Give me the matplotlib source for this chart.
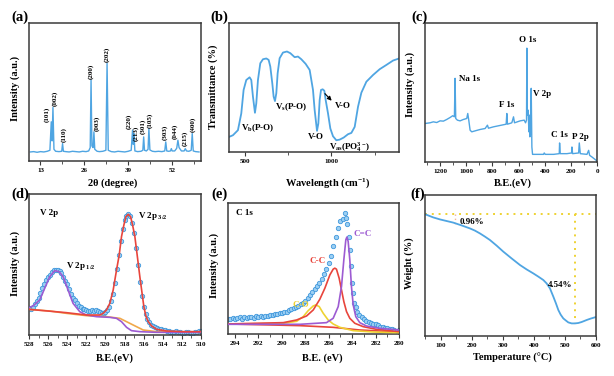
import matplotlib
matplotlib.use("Agg")
import matplotlib.pyplot as plt
from matplotlib.ticker import MultipleLocator

plt.rcParams["font.family"] = ["Liberation Serif", "DejaVu Serif"]
plt.rcParams["font.weight"] = "bold"
plt.rcParams["mathtext.fontset"] = "custom"
plt.rcParams["mathtext.rm"] = "Liberation Serif:bold"
plt.rcParams["mathtext.it"] = "Liberation Serif:italic:bold"
plt.rcParams["mathtext.bf"] = "Liberation Serif:bold"

# ---------------------------------------------------------------- data
# (a) XRD
xrd_tt = [10.0, 11.0, 12.0, 13.0, 14.0, 15.0, 15.8, 16.2, 16.45, 16.7, 17.0, 17.5,
          18.5, 19.3, 19.55, 19.8, 20.5, 21.5, 22.5, 23.5, 24.5, 25.5, 26.5, 27.3,
          27.75, 28.0, 28.25, 28.6, 28.85, 29.1, 29.8, 30.5, 31.5, 32.4, 32.75, 33.1,
          34.0, 35.0, 36.0, 37.0, 38.0, 39.0, 39.9, 40.3, 40.5, 40.7, 41.0, 41.8,
          42.8, 43.35, 43.6, 43.85, 44.4, 44.9, 45.15, 45.45, 46.2, 47.0, 48.0, 49.0,
          49.85, 50.15, 50.45, 51.0, 51.55, 51.8, 52.05, 52.8, 53.4, 53.75, 54.1, 54.8,
          55.6, 55.95, 56.3, 57.0, 57.7, 58.0, 58.3, 59.0, 60.0]
xrd_int = [27, 28, 26, 28, 27, 29, 32, 117, 60, 160, 35, 29,
           28, 29, 52, 29, 28, 27, 29, 28, 27, 29, 28, 30,
           40, 242, 45, 40, 87, 35, 29, 28, 29, 32, 292, 32,
           28, 27, 29, 28, 27, 29, 32, 92, 50, 82, 30, 28,
           29, 32, 72, 32, 30, 35, 97, 33, 29, 28, 29, 28,
           30, 57, 30, 29, 30, 37, 30, 30, 38, 62, 40, 30,
           30, 37, 30, 29, 32, 82, 30, 28, 27]
hkl_labels = ["(101)", "(002)", "(110)", "(200)", "(003)", "(202)", "(220)",
              "(213)", "(301)", "(105)", "(303)", "(044)", "(215)", "(400)"]
hkl_x = [15.0, 17.2, 19.8, 28.0, 29.6, 32.75, 39.2, 41.35, 43.3, 45.5, 49.9, 52.9, 55.8, 58.2]
hkl_y = [114, 160, 54, 242, 86, 292, 94, 57, 77, 97, 60, 64, 42, 84]

# (b) FTIR
ir_wn = [410, 432.7, 461.5, 480.8, 494.2, 509.6, 528.8, 538.5, 548.1, 559.6, 567.3,
         576.9, 590.4, 605.8, 625.0, 638.5, 648.1, 659.6, 667.3, 675.0, 682.7, 690.4,
         701.9, 721.2, 744.2, 763.5, 788.5, 807.7, 826.9, 851.9, 875.0, 894.2, 903.8,
         917.3, 925.0, 932.7, 940.4, 950.0, 959.6, 967.3, 980.8, 994.2, 1009.6, 1028.8,
         1048.1, 1071.2, 1096.2, 1115.4, 1134.6, 1153.8, 1173.1, 1201.9, 1240.4,
         1278.8, 1317.3, 1355.8, 1390.4]
ir_t = [11.7, 13.0, 16.9, 29.9, 48.1, 55.8, 57.9, 55.8, 42.9, 30.4, 37.7,
        55.8, 68.8, 71.9, 72.5, 71.4, 66.2, 53.2, 42.9, 39.5, 45.5, 61.0,
        72.7, 77.1, 77.9, 76.6, 73.5, 74.0, 71.9, 68.3, 63.6, 48.1, 32.5,
        16.4, 22.1, 40.3, 48.1, 48.6, 47.5, 40.3, 29.9, 18.2, 12.2, 9.1,
        9.6, 11.2, 13.8, 14.8, 19.5, 35.1, 46.0, 54.5, 59.7,
        64.2, 67.5, 70.9, 72.5]

# (c) XPS survey
sv_be = [1314.9, 1276.6, 1251.1, 1225.5, 1200.0, 1174.5, 1148.9, 1123.4, 1103.0, 1090.2,
         1085.1, 1080.0, 1067.2, 1046.8, 1021.3, 995.8, 988.1, 980.4, 970.2, 957.5,
         932.0, 893.6, 855.3, 837.5, 829.8, 791.5, 740.5, 694.5, 689.4, 684.3,
         651.1, 638.3, 630.7, 587.3, 556.6, 546.4, 538.8, 536.2, 533.7, 528.5,
         526.0, 520.9, 515.8, 513.2, 508.1, 503.0, 497.9, 492.8, 459.6, 408.6,
         403.5, 395.8, 331.8, 288.6, 286.0, 280.9, 229.9, 194.1, 191.6, 186.5,
         140.5, 135.4, 127.7, 76.7, 63.9, 56.3, 38.4, 12.8, 0.0]
sv_int = [27.7, 28.2, 28.9, 28.4, 29.6, 29.4, 30.6, 32.0, 33.3, 32.5,
          60.2, 31.3, 30.1, 29.6, 30.6, 31.3, 34.9, 30.1, 22.9, 21.7,
          22.4, 23.4, 24.1, 26.5, 24.3, 25.3, 26.3, 27.2, 34.9, 27.2,
          28.2, 32.5, 28.2, 29.6, 30.1, 28.2, 30.1, 81.9, 34.9, 33.7,
          37.3, 21.7, 33.7, 18.1, 20.5, 53.0, 10.8, 5.5, 5.5, 5.5,
          6.5, 5.5, 5.5, 6.0, 13.7, 6.0, 6.0, 6.5, 10.8, 6.0,
          6.5, 13.7, 6.0, 5.5, 8.4, 4.8, 3.6, 1.7, 0.7]

# (d) V 2p
v_be = [528.0, 527.8, 527.6, 527.4, 527.2, 527.0, 526.8, 526.6, 526.4, 526.2, 526.0,
        525.8, 525.6, 525.4, 525.2, 525.0, 524.8, 524.6, 524.4, 524.2, 524.0, 523.8,
        523.6, 523.4, 523.2, 523.0, 522.8, 522.6, 522.4, 522.2, 522.0, 521.8, 521.6,
        521.4, 521.2, 521.0, 520.8, 520.6, 520.4, 520.2, 520.0, 519.8, 519.6, 519.4,
        519.2, 519.0, 518.8, 518.6, 518.4, 518.2, 518.0, 517.8, 517.6, 517.4, 517.2,
        517.0, 516.8, 516.6, 516.4, 516.2, 516.0, 515.8, 515.6, 515.4, 515.2, 515.0,
        514.8, 514.6, 514.4, 514.2, 514.0, 513.8, 513.6, 513.4, 513.2, 513.0, 512.8,
        512.6, 512.4, 512.2, 512.0, 511.8, 511.6, 511.4, 511.2, 511.0, 510.8, 510.6,
        510.4, 510.2, 510.0]
v_int = [80, 77, 84, 92, 101, 112, 126, 141, 153, 166, 174,
         181, 188, 194, 196, 194, 191, 185, 174, 162, 152, 138,
         124, 112, 104, 95, 88, 83, 79, 77, 75, 71, 72,
         76, 73, 74, 71, 70, 67, 66, 69, 76, 85, 103,
         124, 157, 198, 240, 282, 318, 345, 358, 363, 357, 337,
         305, 262, 210, 160, 117, 84, 62, 47, 38, 31, 27,
         23, 20, 18, 17, 15, 14, 13, 11, 10, 8, 10,
         13, 9, 8, 6, 5, 9, 10, 7, 6, 5, 8,
         10, 12, 11]
v32_be = [528.0, 524.09, 521.99, 520.59, 520.24, 519.89, 519.54, 519.19, 518.84, 518.56,
          518.32, 518.07, 517.86, 517.62, 517.37, 517.16, 516.92, 516.68, 516.40, 516.19,
          515.98, 515.77, 515.52, 515.17, 514.65, 513.60, 511.85, 510.0]
v32_int = [77, 67, 60, 60, 65, 75, 95, 135, 195, 240,
           295, 330, 355, 362, 355, 330, 295, 240, 175, 130,
           85, 57, 40, 27, 17, 12, 10, 10]
vbg_be = [528.0, 525.83, 524.09, 521.99, 519.89, 518.49, 517.10, 516.05, 514.65, 510.0]
vbg_int = [77, 72, 65, 58, 55, 50, 30, 15, 10, 8]
v12_be = [528.0, 527.58, 526.88, 526.36, 525.83, 525.31, 524.85, 524.43, 523.91, 523.39,
          522.69, 521.99, 520.94, 519.54, 518.84, 518.32, 517.79, 517.27, 516.40, 514.65, 510.0]
v12_int = [82, 87, 105, 140, 175, 193, 190, 175, 135, 95,
           70, 60, 55, 53, 50, 40, 23, 13, 10, 8, 8]

# (e) C 1s
c_be = [294.6, 294.4, 294.2, 294.0, 293.8, 293.6, 293.4, 293.2, 293.0, 292.8, 292.6,
        292.4, 292.2, 292.0, 291.8, 291.6, 291.4, 291.2, 291.0, 290.8, 290.6, 290.4,
        290.2, 290.0, 289.8, 289.6, 289.4, 289.2, 289.0, 288.8, 288.6, 288.4, 288.2,
        288.0, 287.8, 287.6, 287.4, 287.2, 287.0, 286.8, 286.6, 286.4, 286.2, 286.0,
        285.8, 285.6, 285.4, 285.2, 285.0, 284.8, 284.6, 284.5, 284.4, 284.3, 284.2,
        284.1, 284.0, 283.9, 283.8, 283.7, 283.6, 283.4, 283.2, 283.0, 282.8, 282.6,
        282.4, 282.2, 282.0, 281.8, 281.6, 281.4, 281.2, 281.0, 280.8, 280.6, 280.4,
        280.2, 280.0]
c_int = [44, 46, 48, 44, 49, 50, 46, 50, 47, 51, 52,
         49, 53, 51, 54, 52, 55, 54, 57, 56, 59, 60,
         62, 63, 66, 67, 71, 74, 77, 81, 84, 89, 94,
         100, 107, 116, 126, 134, 144, 154, 166, 179, 194, 212,
         234, 262, 290, 317, 337, 344, 362, 347, 330, 290, 252,
         202, 152, 122, 94, 80, 67, 57, 50, 44, 40, 37,
         34, 30, 29, 26, 22, 21, 17, 18, 14, 15, 12,
         10, 11]
cco_be = [294.57, 289.88, 288.74, 288.18, 287.75, 287.32, 287.10, 286.81, 286.47, 286.05,
          285.62, 285.05, 283.91, 282.21, 280.0]
cco_int = [30, 32, 38, 52, 70, 84, 87, 82, 62, 42, 30, 20, 10, 6, 4]
ccc_be = [294.57, 289.88, 288.74, 287.89, 287.32, 286.76, 286.33, 285.90, 285.62, 285.48,
          285.34, 285.11, 284.91, 284.71, 284.48, 284.20, 283.77, 283.06, 281.93, 280.0]
ccc_int = [30, 34, 42, 54, 72, 104, 137, 177, 194, 197,
           194, 167, 132, 97, 67, 47, 32, 22, 14, 7]
cdc_be = [294.57, 288.46, 286.19, 285.62, 285.19, 284.91, 284.71, 284.54, 284.45, 284.34,
          284.20, 284.06, 283.91, 283.69, 283.35, 282.78, 281.64, 280.0]
cdc_int = [29, 29, 34, 47, 82, 142, 222, 282, 290, 277,
           222, 142, 87, 52, 34, 24, 17, 12]
cbg_be = [294.57, 288.46, 285.62, 283.35, 280.0]
cbg_int = [30, 25, 20, 12, 6]

# (f) TGA
tga_t = [50, 76.4, 97.9, 119.3, 140.8, 167.6, 194.4, 210.5, 226.6, 242.7, 258.8,
         280.3, 301.7, 328.5, 355.4, 376.8, 398.3, 414.4, 430.5, 441.2, 451.9, 462.7,
         471.2, 478.8, 486.3, 494.8, 503.4, 510.9, 521.7, 532.4, 543.1, 553.9, 570.0,
         582.8, 600]
tga_w = [99.99, 99.83, 99.73, 99.65, 99.57, 99.43, 99.28, 99.17, 99.03, 98.87, 98.70,
         98.42, 98.12, 97.78, 97.45, 97.23, 97.03, 96.87, 96.70, 96.53, 96.28, 95.87,
         95.53, 95.20, 94.97, 94.78, 94.67, 94.58, 94.53, 94.53, 94.55, 94.60, 94.70,
         94.77, 94.85]
tga_start = 100.0
tga_step1_t = 146
tga_end_t = 532.4
tga_min_w = 94.53

# ---------------------------------------------------------------- style
BLUE = "#4fa5e2"
DOT_FACE = "#9ccff3"
DOT_EDGE = "#3f97dc"
RED = "#e8453c"
ORANGE = "#f0a84a"
PURPLE = "#9d5bd2"
YELLOW = "#eed232"
FRAME = "#3a3a3a"

W, H = 614, 376
fig = plt.figure(figsize=(W / 100, H / 100), dpi=100)


def box(x0, y0, x1, y1):
    return [x0 / W, 1 - y1 / H, (x1 - x0) / W, (y1 - y0) / H]


def setup(ax, xlim, ylim, major, minor):
    ax.set_xlim(*xlim)
    ax.set_ylim(*ylim)
    ax.xaxis.set_major_locator(MultipleLocator(major))
    ax.xaxis.set_minor_locator(MultipleLocator(minor))
    ax.set_yticks([])
    ax.tick_params(axis="x", which="major", direction="out", length=3, width=0.8,
                   labelsize=5, pad=2, color=FRAME)
    ax.tick_params(axis="x", which="minor", direction="out", length=2, width=0.6, color=FRAME)
    for s in ax.spines.values():
        s.set_color(FRAME)
        s.set_linewidth(1.1)


def ftext(px, py, s, **kw):
    fig.text(px / W, 1 - py / H, s, ha="center", va="center", **kw)


# (a)
ax = fig.add_axes(box(29, 23, 201, 161))
setup(ax, (9.6, 60.6), (0, 412), 13, 6.5)
ax.plot(xrd_tt, xrd_int, color=BLUE, lw=1.0)
for lab, x, y in zip(hkl_labels, hkl_x, hkl_y):
    ax.text(x, y + 3, lab, rotation=90, ha="center", va="bottom", fontsize=5)

# (b)
ax = fig.add_axes(box(229, 23, 399, 152))
setup(ax, (410, 1390), (0, 100), 500, 250)
ax.plot(ir_wn, ir_t, color=BLUE, lw=1.3)
ax.text(481, 18.7, r"V$_{\mathrm{b}}$(P-O)", fontsize=6.5, va="center")
ax.text(673, 34.5, r"V$_{\mathrm{s}}$(P-O)", fontsize=6.5, va="center")
ax.text(913, 11.7, "V-O", fontsize=6.5, ha="center", va="center")
ax.text(1019, 35.6, "V-O", fontsize=6.5, va="center")
ax.text(986, 3.9, r"V$_{\mathrm{as}}$(PO$_{4}^{3-}$)", fontsize=6.5, va="center")
ax.annotate("", xy=(1013, 38.2), xytext=(952, 46.8),
            arrowprops=dict(arrowstyle="-|>", color="black", lw=0.8, mutation_scale=6))

# (c)
ax = fig.add_axes(box(425, 23, 597, 162))
setup(ax, (1315, 0), (0, 100), 200, 100)
ax.plot(sv_be, sv_int, color=BLUE, lw=1.0)
ax.text(1052, 59.5, "Na 1s", fontsize=6.5, va="center")
ax.text(531, 87.5, "O 1s", fontsize=6.5, ha="center", va="center")
ax.text(493, 48.7, "V 2p", fontsize=6.5, va="center")
ax.text(692, 41, "F 1s", fontsize=6.5, ha="center", va="center")
ax.text(352, 19.3, "C 1s", fontsize=6.5, va="center")
ax.text(192, 18, "P 2p", fontsize=6.5, va="center")

# (d)
ax = fig.add_axes(box(29, 194, 201, 335))
setup(ax, (528, 510), (0, 423), 2, 1)
ax.scatter(v_be, v_int, s=10, facecolor=DOT_FACE, edgecolor=DOT_EDGE, lw=0.6, zorder=2)
ax.plot(vbg_be, vbg_int, color=ORANGE, lw=1.2, zorder=3)
ax.plot(v12_be, v12_int, color=PURPLE, lw=1.2, zorder=3)
ax.plot(v32_be, v32_int, color=RED, lw=1.2, zorder=4)
ax.text(526.81, 365, "V 2p", fontsize=6.5, va="center")
ax.text(524.15, 207, r"V 2p$_{\ 1/2}$", fontsize=6.5, va="center")
ax.text(516.57, 357, r"V 2p$_{\ 3/2}$", fontsize=6.5, va="center")

# (e)
ax = fig.add_axes(box(228, 203, 399, 334))
setup(ax, (294.6, 280), (0, 392), 2, 1)
ax.scatter(c_be, c_int, s=10, facecolor=DOT_FACE, edgecolor=DOT_EDGE, lw=0.6, zorder=2)
ax.plot(cbg_be, cbg_int, color=RED, lw=1.2, zorder=3)
ax.plot(cco_be, cco_int, color=YELLOW, lw=1.2, zorder=3)
ax.plot(ccc_be, ccc_int, color=RED, lw=1.2, zorder=3)
ax.plot(cdc_be, cdc_int, color=PURPLE, lw=1.2, zorder=3)
ax.text(293.9, 362, "C 1s", fontsize=6.5, va="center")
ax.text(283.86, 299, "C=C", fontsize=6.5, va="center", color=PURPLE)
ax.text(287.66, 217, "C-C", fontsize=6.5, va="center", color=RED)
ax.text(289.09, 87, "C-O", fontsize=6.5, va="center", color=YELLOW)

# (f)
ax = fig.add_axes(box(425, 195, 596, 336))
setup(ax, (50, 600), (93.9, 100.95), 100, 50)
ax.axhline(tga_start, color=YELLOW, lw=1.4, ls=(0, (1, 2.5)))
ax.plot([tga_end_t, tga_end_t], [tga_start, tga_min_w], color=YELLOW, lw=1.4, ls=(0, (1, 2.5)))
ax.plot([tga_step1_t, tga_step1_t], [tga_start, 99.5], color="#f2b49b", lw=1.0, ls=(0, (1, 2)))
ax.plot(tga_t, tga_w, color=BLUE, lw=1.3)
ax.text(162, 99.58, "0.96%", fontsize=6.5, va="center")
ax.text(446.6, 96.45, "4.54%", fontsize=6.5, va="center")

# axis titles
ftext(113, 183, "2θ (degree)", fontsize=7.5)
ftext(328, 183, r"Wavelength (cm$^{-1}$)", fontsize=7.5)
ftext(513, 183, "B.E.(eV)", fontsize=7.5)
ftext(115, 358, "B.E.(eV)", fontsize=7.5)
ftext(322, 358, "B.E. (eV)", fontsize=7.5)
ftext(512, 358, "Temperature (°C)", fontsize=7.5)
ftext(15, 88, "Intensity (a.u.)", fontsize=7.5, rotation=90)
ftext(213, 87, "Transmittance (%)", fontsize=7.5, rotation=90)
ftext(410, 84, "Intensity (a.u.)", fontsize=7.5, rotation=90)
ftext(15, 263, "Intensity (a.u.)", fontsize=7.5, rotation=90)
ftext(214, 265, "Intensity (a.u.)", fontsize=7.5, rotation=90)
ftext(409, 263, "Weight (%)", fontsize=7.5, rotation=90)

# panel letters
for lab, px, py in [("(a)", 20, 17), ("(b)", 219, 17), ("(c)", 420, 17),
                    ("(d)", 20, 194), ("(e)", 219, 194), ("(f)", 418, 194)]:
    ftext(px, py, lab, fontsize=10.5)

fig.savefig("out.png", dpi=100)
